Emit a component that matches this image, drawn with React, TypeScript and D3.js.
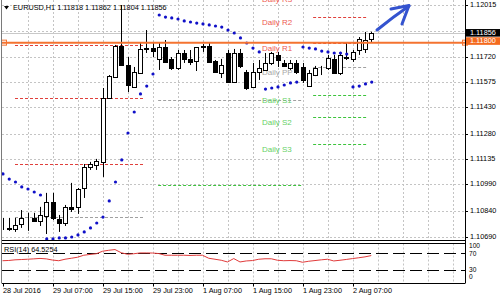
import React from 'react';
import * as d3 from 'd3';

// ---------- data ----------
const timeLabels = ['28 Jul 2016', '29 Jul 07:00', '29 Jul 15:00', '29 Jul 23:00', '1 Aug 07:00', '1 Aug 15:00', '1 Aug 23:00', '2 Aug 07:00'];
const timeLabelIdx = [0, 8, 16, 24, 32, 40, 48, 56];

const open = [1.10736, 1.10736, 1.10736, 1.10765, 1.10799, 1.10797, 1.10782, 1.10810, 1.10890, 1.10793,
  1.10770, 1.10862, 1.10862, 1.10970, 1.11090, 1.11101, 1.11119, 1.11484, 1.11604, 1.11781,
  1.11672, 1.11547, 1.11627, 1.11764, 1.11769, 1.11707, 1.11775, 1.11707, 1.11655, 1.11741,
  1.11707, 1.11695, 1.11775, 1.11781, 1.11695, 1.11627, 1.11741, 1.11575, 1.11741, 1.11632,
  1.11547, 1.11632, 1.11644, 1.11684, 1.11730, 1.11684, 1.11655, 1.11684, 1.11661, 1.11552,
  1.11615, 1.11655, 1.11655, 1.11707, 1.11627, 1.11718, 1.11707, 1.11758, 1.11764, 1.11818];
const high = [1.10799, 1.10799, 1.10799, 1.10844, 1.10828, 1.10828, 1.10862, 1.10942, 1.10942, 1.10816,
  1.10873, 1.10999, 1.10970, 1.11107, 1.11119, 1.11136, 1.11541, 1.11615, 1.11787, 1.12015,
  1.11718, 1.11661, 1.11798, 1.11872, 1.11804, 1.11798, 1.11815, 1.11718, 1.11758, 1.11758,
  1.11758, 1.11775, 1.11792, 1.11798, 1.11701, 1.11707, 1.11758, 1.11764, 1.11764, 1.11644,
  1.11684, 1.11701, 1.11741, 1.11747, 1.11747, 1.11701, 1.11701, 1.11701, 1.11684, 1.11644,
  1.11667, 1.11667, 1.11730, 1.11730, 1.11747, 1.11798, 1.11758, 1.11832, 1.11861, 1.11862];
const low = [1.10730, 1.10725, 1.10719, 1.10742, 1.10725, 1.10776, 1.10753, 1.10707, 1.10787, 1.10719,
  1.10753, 1.10833, 1.10822, 1.10913, 1.11073, 1.11073, 1.11033, 1.11480, 1.11600, 1.11667,
  1.11518, 1.11545, 1.11625, 1.11741, 1.11718, 1.11644, 1.11690, 1.11644, 1.11644, 1.11684,
  1.11672, 1.11638, 1.11747, 1.11690, 1.11627, 1.11598, 1.11575, 1.11572, 1.11655, 1.11530,
  1.11545, 1.11587, 1.11642, 1.11672, 1.11661, 1.11661, 1.11644, 1.11621, 1.11570, 1.11547,
  1.11609, 1.11615, 1.11644, 1.11621, 1.11615, 1.11701, 1.11690, 1.11730, 1.11741, 1.11804];
const close = [1.10736, 1.10739, 1.10759, 1.10799, 1.10797, 1.10782, 1.10816, 1.10890, 1.10799, 1.10770,
  1.10862, 1.10850, 1.10964, 1.11090, 1.11107, 1.11124, 1.11484, 1.11609, 1.11781, 1.11672,
  1.11558, 1.11632, 1.11764, 1.11767, 1.11752, 1.11775, 1.11690, 1.11655, 1.11741, 1.11707,
  1.11690, 1.11777, 1.11781, 1.11690, 1.11632, 1.11672, 1.11575, 1.11741, 1.11667, 1.11541,
  1.11632, 1.11655, 1.11684, 1.11741, 1.11701, 1.11667, 1.11684, 1.11632, 1.11587, 1.11627,
  1.11655, 1.11653, 1.11712, 1.11627, 1.11730, 1.11712, 1.11747, 1.11821, 1.11815, 1.11856];

const sar = [1.11050, 1.11021, 1.11004, 1.10976, 1.10964, 1.10947, 1.10930,
  1.10679, 1.10679, 1.10685, 1.10685, 1.10690, 1.10702, 1.10719, 1.10742, 1.10770, 1.10804, 1.10896, 1.11004, 1.11130,
  1.11284, 1.11404, 1.11507, 1.11552, 1.11621,
  1.11958, 1.11946, 1.11941, 1.11935, 1.11924, 1.11918, 1.11912, 1.11907, 1.11901, 1.11895, 1.11889, 1.11872, 1.11855,
  1.11827, 1.11798, 1.11769, 1.11747,
  1.11535, 1.11541, 1.11547, 1.11558, 1.11570, 1.11575,
  1.11775, 1.11769, 1.11764, 1.11752, 1.11747, 1.11741, 1.11741, 1.11735,
  1.11547, 1.11552, 1.11564, 1.11575];

const rsi = [52.4, 53, 54.5, 55.2, 55.9, 56.8, 57.8, 56.8, 54, 52.4,
  55.9, 58.2, 60.6, 65.3, 67.2, 68.8, 74.7, 77, 78.7, 71.2,
  67.6, 68.8, 70.7, 70.7, 70.5, 69.3, 65.3, 65.3, 65.3, 65.3,
  64.8, 65.3, 65.3, 58.2, 55.9, 53.5, 49.5, 57.5, 49.5, 51.9,
  52.8, 55.9, 57, 57, 53.5, 52.4, 52.8, 52.4, 48.8, 51.2,
  52.8, 54.5, 55.9, 51.9, 53.5, 55.4, 57.5, 59.4, 61.5, 64.5254];

const priceTicks = [1.12015, 1.11868, 1.11720, 1.11575, 1.11430, 1.11280, 1.11135, 1.10990, 1.10840, 1.10690];
const priceTickLabels = ['1.12015', '', '1.11720', '1.11575', '1.11430', '1.11280', '1.11135', '1.10990', '1.10840', '1.10690'];

const rsiLevels = [70, 30];
const rsiTickValues = [100, 70, 30, 0];

const pivotNames = ['R3', 'R2', 'R1', 'PP', 'S1', 'S2', 'S3'];
const pivotDayStart = [2, 24.9, 49.7];
const pivotDayEnd = [22.5, 47.9, 58.5];
const pivotDay1 = [1.11787, 1.11484, 1.11107, 1.10804, null, null, null];
const pivotDay2 = [null, null, null, 1.11473, 1.10987, null, null];
const pivotDay3 = [1.12078, 1.11946, 1.11798, 1.11661, 1.11501, 1.11375, 1.11221];

const bidPrice = 1.11856;
const alertPrice = 1.11800;
const lastBarsShown = 74;

// ---------- component ----------
const FONT = 'Liberation Sans, Arial, sans-serif';
const pivotColor = (n: string) => (n[0] === 'R' ? '#e0403c' : n[0] === 'S' ? '#3cc43c' : '#a0a0a0');
const pivotTextColor = (n: string) => (n[0] === 'R' ? '#ee5a52' : n[0] === 'S' ? '#66d166' : '#a8a8a8');

export default function App() {
  const left = 2, right = 465, mainTop = 0, mainBottom = 240.5;
  const rsiTop = 243.5, rsiBottom = 283.5;
  const x = d3.scaleLinear().domain([0, lastBarsShown]).range([2.5, right]);
  const y = d3.scaleLinear().domain([1.10690, 1.12015]).range([237, 5]);
  const yR = d3.scaleLinear().domain([0, 100]).range([283, 240.5]);

  const gridX = d3.range(0, lastBarsShown, 4).map((i) => Math.round(x(i)) + 0.5).filter((v) => v > left + 3 && v < right);

  const rsiLine = d3.line<number>().x((_, i) => x(i)).y((d) => yR(d))(rsi) || '';

  const pivotDays = [pivotDay1, pivotDay2, pivotDay3];
  const labelX = 262;

  const candles = open.map((o, i) => {
    const cx = Math.round(x(i)) + 0.5;
    const c = close[i];
    const bull = c >= o;
    const yt = Math.round(y(Math.max(o, c)));
    const yb = Math.round(y(Math.min(o, c)));
    return (
      <g key={i}>
        <line x1={cx} x2={cx} y1={y(high[i])} y2={y(low[i])} stroke="#000" strokeWidth={1} />
        <rect x={cx - 2} y={yt + 0.5} width={4} height={Math.max(0, yb - yt)} fill={bull ? '#fff' : '#000'} stroke="#000" strokeWidth={1} />
      </g>
    );
  });

  return (
    <svg width={500} height={298} style={{ position: 'fixed', left: 0, top: 0, background: '#fff' }} fontFamily={FONT}>
      <defs>
        <clipPath id="mainClip"><rect x={left} y={mainTop} width={right - left} height={mainBottom - mainTop} /></clipPath>
        <clipPath id="rsiClip"><rect x={left} y={rsiTop} width={right - left} height={rsiBottom - rsiTop} /></clipPath>
      </defs>
      <rect x={0} y={0} width={500} height={298} fill="#fff" />

      {/* grid main */}
      <g stroke="#c4c4c4" strokeWidth={1} strokeDasharray="2,2">
        {gridX.map((gx) => <line key={'gx' + gx} x1={gx} x2={gx} y1={mainTop} y2={mainBottom} />)}
        {priceTicks.map((p) => <line key={'gy' + p} x1={left} x2={right} y1={Math.round(y(p)) + 0.5} y2={Math.round(y(p)) + 0.5} />)}
        {gridX.map((gx) => <line key={'rx' + gx} x1={gx} x2={gx} y1={rsiTop} y2={rsiBottom} />)}
      </g>

      <g clipPath="url(#mainClip)">
        {/* pivot lines */}
        {pivotDays.map((lv, d) => lv.map((v, k) => v == null ? null : (
          <line key={'pv' + d + k} x1={x(pivotDayStart[d])} x2={x(pivotDayEnd[d])} y1={Math.round(y(v)) + 0.5} y2={Math.round(y(v)) + 0.5}
            stroke={pivotColor(pivotNames[k])} strokeWidth={1} strokeDasharray="3,2" />
        )))}
        {pivotDay3.map((v, k) => v == null ? null : (
          <text key={'pl' + k} x={labelX} y={y(v) + 6} fontSize={8} fill={pivotTextColor(pivotNames[k])} dominantBaseline="middle">{'Daily ' + pivotNames[k]}</text>
        ))}

        {/* bid line */}
        <line x1={left} x2={right} y1={Math.round(y(bidPrice)) + 0.5} y2={Math.round(y(bidPrice)) + 0.5} stroke="#c8c8c8" strokeWidth={1} />

        {/* candles */}
        {candles}

        {/* SAR */}
        {sar.map((s, i) => <circle key={'s' + i} cx={x(i) + 0.5} cy={y(s)} r={1.6} fill="#1010c8" />)}

        {/* alert line */}
        <line x1={left} x2={right} y1={y(alertPrice)} y2={y(alertPrice)} stroke="#f47330" strokeWidth={2} />
      </g>
      <rect x={1.5} y={y(alertPrice) - 2.5} width={5} height={5} fill="none" stroke="#f47330" strokeWidth={1} />
      <rect x={462.5} y={y(alertPrice) - 2.5} width={5} height={5} fill="none" stroke="#f47330" strokeWidth={1} />

      {/* header */}
      <path d="M4,6 L9,6 L6.5,9.5 Z" fill="#000" />
      <text x={13} y={8} fontSize={7.3} fill="#000" dominantBaseline="middle">{`EURUSD,H1  ${open[59].toFixed(5)} ${high[59].toFixed(5)} ${low[59].toFixed(5)} ${close[59].toFixed(5)}`}</text>

      {/* arrow */}
      <g stroke="#3453cf" strokeWidth={3} fill="none" strokeLinecap="round" strokeLinejoin="round">
        <path d="M377,30 Q393,17 409,6" />
        <path d="M391,9 L409,5.5 L402,24" />
      </g>

      {/* RSI */}
      <g clipPath="url(#rsiClip)">
        {rsiLevels.map((l) => <line key={'rl' + l} x1={left} x2={right} y1={Math.round(yR(l)) + 0.5} y2={Math.round(yR(l)) + 0.5} stroke="#000" strokeWidth={1} strokeDasharray="12,5" />)}
        <path d={rsiLine} fill="none" stroke="#e03a3a" strokeWidth={1} />
      </g>
      <text x={4} y={250} fontSize={7.3} fill="#000" dominantBaseline="middle">{`RSI(14) ${rsi[59].toFixed(4)}`}</text>

      {/* frames */}
      <line x1={1.5} x2={1.5} y1={0} y2={rsiBottom} stroke="#7a7a7a" strokeWidth={1} />
      <line x1={right + 0.5} x2={right + 0.5} y1={0} y2={rsiBottom} stroke="#000" strokeWidth={1} />
      <line x1={left} x2={right} y1={mainBottom} y2={mainBottom} stroke="#000" strokeWidth={1} />
      <line x1={left} x2={right} y1={rsiTop} y2={rsiTop} stroke="#000" strokeWidth={1} />
      <line x1={left} x2={right} y1={rsiBottom} y2={rsiBottom} stroke="#000" strokeWidth={1} />

      {/* price axis */}
      {priceTicks.map((p, k) => (
        <g key={'pt' + k}>
          <line x1={466} x2={468} y1={Math.round(y(p)) + 0.5} y2={Math.round(y(p)) + 0.5} stroke="#000" />
          {priceTickLabels[k] && <text x={470} y={y(p)} fontSize={7.3} fill="#000" dominantBaseline="middle">{priceTickLabels[k]}</text>}
        </g>
      ))}
      <rect x={466} y={y(bidPrice) - 3.8} width={34} height={7.6} fill="#000" />
      <text x={470} y={y(bidPrice)} fontSize={7.3} fill="#fff" dominantBaseline="middle">{bidPrice.toFixed(5)}</text>
      <rect x={466} y={y(alertPrice) - 5.4} width={34} height={7.6} fill="#f46a1e" />
      <text x={470} y={y(alertPrice) - 1.6} fontSize={7.3} fill="#fff" dominantBaseline="middle">{alertPrice.toFixed(5)}</text>

      {/* RSI axis */}
      {rsiTickValues.map((v) => {
        const ty = v === 100 ? 246.5 : v === 0 ? 277 : v === 70 ? yR(v) + 0.8 : yR(v);
        return <text key={'rt' + v} x={469} y={ty} fontSize={6.6} fill="#000" dominantBaseline="middle">{v}</text>;
      })}

      {/* time axis */}
      {timeLabelIdx.map((i, k) => {
        const tx = Math.round(x(i)) + 0.5;
        return (
          <g key={'tl' + k}>
            <line x1={tx} x2={tx} y1={rsiBottom} y2={rsiBottom + 3} stroke="#000" />
            <text x={Math.max(2, tx - 0.5)} y={291} fontSize={7.3} fill="#000" dominantBaseline="middle">{timeLabels[k]}</text>
          </g>
        );
      })}
    </svg>
  );
}
